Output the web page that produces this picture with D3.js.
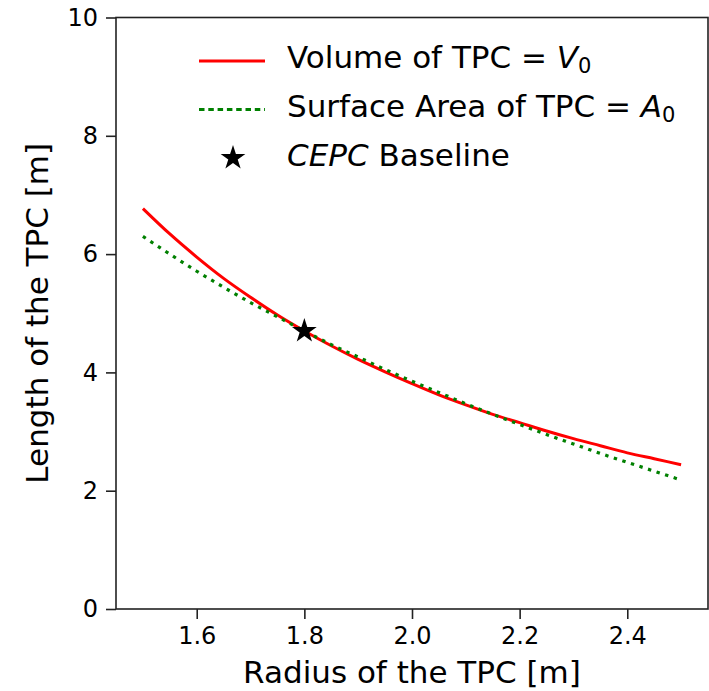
<!DOCTYPE html>
<html>
<head>
<meta charset="utf-8">
<script src="https://cdn.jsdelivr.net/npm/d3@7"></script>
<style>
  body { margin: 0; background: #fff; }
  text { font-family: "DejaVu Sans", sans-serif; fill: #000; }
</style>
</head>
<body>
<div id="chart"></div>
<script>
// radius of the TPC [m]
const radius = [1.50, 1.55, 1.60, 1.65, 1.70, 1.75, 1.80, 1.85, 1.90, 1.95, 2.00,
                2.05, 2.10, 2.15, 2.20, 2.25, 2.30, 2.35, 2.40, 2.45, 2.50];
// length at constant volume
const lengthVolume = [6.77, 6.34, 5.95, 5.59, 5.27, 4.97, 4.70, 4.45, 4.22, 4.01, 3.81,
                      3.62, 3.45, 3.29, 3.15, 3.01, 2.88, 2.76, 2.64, 2.54, 2.44];
// length at constant surface area
const lengthArea = [6.30, 6.00, 5.71, 5.44, 5.18, 4.94, 4.70, 4.47, 4.26, 4.05, 3.85,
                    3.66, 3.47, 3.29, 3.12, 2.95, 2.79, 2.63, 2.48, 2.33, 2.18];
const baseline = [{ r: 1.8, l: 4.7 }];
const xTicks = [1.6, 1.8, 2.0, 2.2, 2.4];
const yTicks = [0, 2, 4, 6, 8, 10];

const width = 709;
const height = 691;
const margin = { top: 17.5, right: 1, bottom: 82, left: 116 };

const svg = d3.select("#chart")
    .append("svg")
    .attr("width", width)
    .attr("height", height);

const x = d3.scaleLinear()
    .domain([1.45, 2.55])
    .range([margin.left, width - margin.right]);

const y = d3.scaleLinear()
    .domain([0, 10])
    .range([height - margin.bottom, margin.top]);

const xAxis = svg.append("g")
    .attr("transform", `translate(0, ${height - margin.bottom})`)
    .call(d3.axisBottom(x).tickValues(xTicks).tickFormat(d3.format(".1f")).tickSize(10).tickPadding(8));

const yAxis = svg.append("g")
    .attr("transform", `translate(${margin.left}, 0)`)
    .call(d3.axisLeft(y).tickValues(yTicks).tickFormat(d3.format("d")).tickSize(10).tickPadding(8));

[xAxis, yAxis].forEach(ax => {
    ax.select(".domain").remove();
    ax.selectAll(".tick line").attr("stroke", "#222").attr("stroke-width", 1.6);
    ax.selectAll(".tick text")
        .attr("font-family", "DejaVu Sans")
        .attr("font-size", "24px")
        .attr("fill", "#000");
});

// frame
svg.append("rect")
    .attr("x", x.range()[0])
    .attr("y", y.range()[1])
    .attr("width", x.range()[1] - x.range()[0])
    .attr("height", y.range()[0] - y.range()[1])
    .attr("fill", "none")
    .attr("stroke", "#222")
    .attr("stroke-width", 1.6);

const line = d3.line()
    .x(d => x(d[0]))
    .y(d => y(d[1]))
    .curve(d3.curveMonotoneX);

svg.append("path")
    .datum(d3.zip(radius, lengthVolume))
    .attr("d", line)
    .attr("fill", "none")
    .attr("stroke", "#ff0000")
    .attr("stroke-width", 3);

svg.append("path")
    .datum(d3.zip(radius, lengthArea))
    .attr("d", line)
    .attr("fill", "none")
    .attr("stroke", "#008000")
    .attr("stroke-width", 3.2)
    .attr("stroke-dasharray", "3.4,5.6");

const star = d3.symbol().type(d3.symbolStar).size(190);

svg.selectAll(".baseline")
    .data(baseline)
    .enter().append("path")
    .attr("class", "baseline")
    .attr("transform", d => `translate(${x(d.r)}, ${y(d.l)})`)
    .attr("d", star)
    .attr("fill", "#000");

// axis labels
svg.append("text")
    .attr("x", (x.range()[0] + x.range()[1]) / 2)
    .attr("y", 683)
    .attr("text-anchor", "middle")
    .attr("font-size", "31px")
    .text("Radius of the TPC [m]");

svg.append("text")
    .attr("transform", `translate(48, ${(y.range()[0] + y.range()[1]) / 2}) rotate(-90)`)
    .attr("text-anchor", "middle")
    .attr("font-size", "31px")
    .text("Length of the TPC [m]");

// legend
const legend = svg.append("g").attr("transform", "translate(199, 0)");

legend.append("line")
    .attr("x1", 0).attr("x2", 66)
    .attr("y1", 61).attr("y2", 61)
    .attr("stroke", "#ff0000")
    .attr("stroke-width", 3);

legend.append("line")
    .attr("x1", 0).attr("x2", 66)
    .attr("y1", 109.5).attr("y2", 109.5)
    .attr("stroke", "#008000")
    .attr("stroke-width", 3.2)
    .attr("stroke-dasharray", "5.5,3.8");

legend.append("path")
    .attr("transform", "translate(34, 158)")
    .attr("d", star)
    .attr("fill", "#000");

const t1 = legend.append("text").attr("x", 88).attr("y", 68).attr("font-size", "31px");
t1.append("tspan").text("Volume of TPC = ");
t1.append("tspan").attr("font-style", "italic").text("V");
t1.append("tspan").attr("font-size", "21px").attr("dy", 5).text("0");

const t2 = legend.append("text").attr("x", 88).attr("y", 117).attr("font-size", "31px");
t2.append("tspan").text("Surface Area of TPC = ");
t2.append("tspan").attr("font-style", "italic").text("A");
t2.append("tspan").attr("font-size", "21px").attr("dy", 5).text("0");

const t3 = legend.append("text").attr("x", 88).attr("y", 166).attr("font-size", "31px");
t3.append("tspan").attr("font-style", "italic").text("CEPC");
t3.append("tspan").text(" Baseline");
</script>
</body>
</html>
